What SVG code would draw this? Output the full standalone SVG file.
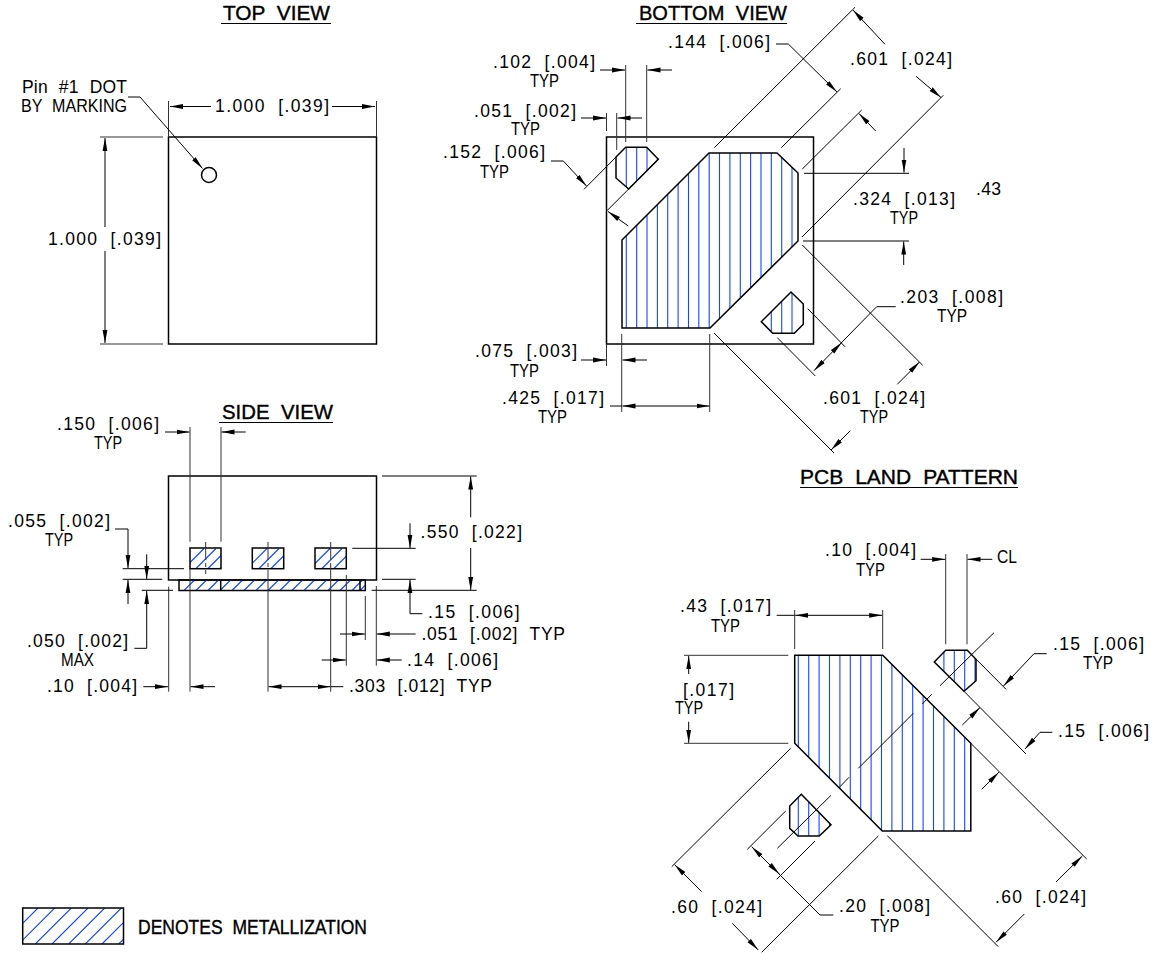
<svg xmlns="http://www.w3.org/2000/svg" width="1152" height="953" viewBox="0 0 1152 953">
<style>
text{font-family:"Liberation Sans",Arial,sans-serif;font-size:17.5px;fill:#000;word-spacing:6px}
.t{font-size:20.5px;stroke:#000;stroke-width:.4}
.o{fill:none;stroke:#000;stroke-width:1.5}
.l{fill:none;stroke:#000;stroke-width:1}
.e{fill:none;stroke:#333;stroke-width:1}
.a{fill:none;stroke:#000;stroke-width:1;marker-end:url(#ah)}
.b{fill:none;stroke:#000;stroke-width:1;marker-start:url(#ah);marker-end:url(#ah)}
.h{fill:none;stroke:#1446ff;stroke-width:1.1}
</style>
<defs>
<marker id="ah" markerUnits="userSpaceOnUse" markerWidth="14" markerHeight="6" refX="13" refY="3" orient="auto-start-reverse"><path d="M0 .6L13 3L0 5.4z" fill="#000"/></marker>
<clipPath id="cb"><polygon points="622,240 709,153 777,153 798,173 798,241 710,328 622,328"/><polygon points="625.7,147.3 646.7,147.3 658.3,159.3 628.7,189 616,178 616,157"/><polygon points="791,292 803.3,304 803.3,324.3 794.3,333.3 772.7,333.3 761.3,321.7"/></clipPath>
<clipPath id="cp"><polygon points="794.7,655.3 882.7,655.3 970.8,743.3 970.8,831 882.3,831 794.7,743.3"/><polygon points="945.7,650.3 967.3,650.3 976,659.3 976,680.7 964,691.3 934.3,662"/><polygon points="801.3,794.3 831,824.7 819.3,836 798,836 789.7,828.3 789.7,806"/></clipPath>
<clipPath id="cs"><rect x="190" y="548" width="31" height="20.7"/><rect x="252.3" y="548" width="31.4" height="20.7"/><rect x="315" y="548" width="31.3" height="20.7"/><rect x="179" y="580" width="186" height="10.5"/></clipPath>
<clipPath id="cl"><rect x="23" y="908" width="100.5" height="36"/></clipPath>
</defs>

<g id="top-view">
<text class="t" x="223" y="20" textLength="107" lengthAdjust="spacingAndGlyphs">TOP VIEW</text>
<path class="l" d="M221 23.5H331" stroke-width="1.5"/>
<rect class="o" x="168.5" y="137" width="208" height="207"/>
<circle class="o" cx="209" cy="175" r="7.5"/>
<text x="22" y="93" textLength="105">Pin #1 DOT</text>
<text x="21" y="112" textLength="106" lengthAdjust="spacingAndGlyphs">BY MARKING</text>
<text x="215" y="112" textLength="114">1.000 [.039]</text>
<text x="48" y="245" textLength="113">1.000 [.039]</text>
</g>

<g id="top-view-connectors">
<path class="e" d="M168.5 101V137M376.5 101V137M100 137H163M100 344H163"/>
<path class="a" d="M211 106.5H170"/><path class="a" d="M332 106.5H375"/>
<path class="a" d="M105 227V138"/><path class="a" d="M105 251V343"/>
<path class="a" d="M128 97H140L202.500 168.500"/>
</g>

<g id="bottom-view">
<text class="t" x="639" y="20" textLength="148" lengthAdjust="spacingAndGlyphs">BOTTOM VIEW</text>
<path class="l" d="M636 23.500H787" stroke-width="1.5"/>
<rect class="o" x="606.500" y="137" width="207" height="207"/>
<path class="h" clip-path="url(#cb)" d="M626.300 140V340M636.700 140V340M647 140V340M657.400 140V340M667.700 140V340M678.100 140V340M688.500 140V340M698.800 140V340M709.200 140V340M719.500 140V340M729.900 140V340M740.300 140V340M750.600 140V340M761 140V340M771.300 140V340M781.700 140V340M792 140V340"/>
<polygon class="o" points="622,240 709,153 777,153 798,173 798,241 710,328 622,328"/>
<polygon class="o" points="625.700,147.300 646.700,147.300 658.300,159.300 628.700,189 616,178 616,157"/>
<polygon class="o" points="791,292 803.300,304 803.300,324.300 794.300,333.300 772.700,333.300 761.300,321.700"/>
<text x="493" y="68" textLength="102">.102 [.004]</text><text x="530" y="87" textLength="29" lengthAdjust="spacingAndGlyphs">TYP</text>
<text x="474" y="116.500" textLength="102">.051 [.002]</text><text x="511" y="135" textLength="29" lengthAdjust="spacingAndGlyphs">TYP</text>
<text x="443" y="158" textLength="102">.152 [.006]</text><text x="480" y="178" textLength="29" lengthAdjust="spacingAndGlyphs">TYP</text>
<text x="668" y="48" textLength="102">.144 [.006]</text>
<text x="850" y="65" textLength="102">.601 [.024]</text>
<text x="853" y="204.500" textLength="102">.324 [.013]</text><text x="890" y="224" textLength="28" lengthAdjust="spacingAndGlyphs">TYP</text>
<text x="976" y="195" textLength="25">.43</text>
<text x="900" y="303" textLength="103">.203 [.008]</text><text x="937" y="322" textLength="30" lengthAdjust="spacingAndGlyphs">TYP</text>
<text x="823" y="404" textLength="102">.601 [.024]</text><text x="860" y="423" textLength="28" lengthAdjust="spacingAndGlyphs">TYP</text>
<text x="475" y="357" textLength="102">.075 [.003]</text><text x="510" y="376.500" textLength="29" lengthAdjust="spacingAndGlyphs">TYP</text>
<text x="502" y="404" textLength="102">.425 [.017]</text><text x="538" y="423" textLength="29" lengthAdjust="spacingAndGlyphs">TYP</text>
</g>

<g id="bottom-view-connectors">
<path class="e" d="M625.700 65V142M646.700 65V142M606.500 113V131M616.700 113V150M621.700 334V412M709.700 334V412M606.500 344V366"/>
<path class="a" d="M600 70H625"/><path class="a" d="M672 70H647.500"/>
<path class="a" d="M581 118H606"/><path class="a" d="M642 118H617.500"/>
<path class="l" d="M626 147L584 189.300M658.300 159.300L607 210.700M714.300 147.700L855 7.300M781.300 147.700L840.700 88.700M802.300 169L861.700 110M802 237L943.300 95.300M804 173.300H909M803 241H909M807.700 308.700L845 346.700M777.300 337.700L815.300 376M802.300 245L922.700 365.300M714 333L834 453"/>
<path class="a" d="M551 161H563.300L586.500 186"/>
<path class="a" d="M628.300 226L608 211.500"/>
<path class="a" d="M885 44.300L853 10"/><path class="a" d="M916 76.300L941 97.500"/>
<path class="a" d="M776 44H788.300L837 92"/>
<path class="a" d="M875.700 131L859 113.500"/>
<path class="a" d="M904 148V172.500"/><path class="a" d="M903.700 265V241.500"/>
<path class="a" d="M895.700 306.700H876.700L814 370.700"/><path class="a" d="M835 349.300L841.700 342.400"/>
<path class="a" d="M897.300 384.300L919.500 362"/><path class="a" d="M850.300 430.700L831 450"/>
<path class="a" d="M581 360H606"/><path class="a" d="M647 360H622.500"/>
<path class="l" d="M610 406H622"/><path class="b" d="M622.500 406H709.500"/>
</g>

<g id="side-view">
<text class="t" x="222" y="419" textLength="111" lengthAdjust="spacingAndGlyphs">SIDE VIEW</text>
<path class="l" d="M219 422.500H333" stroke-width="1.500"/>
<rect class="o" x="168.500" y="476" width="208" height="104"/>
<path class="h" clip-path="url(#cs)" d="M180 572.500L204 548.500M192 572.500L216 548.500M204 572.500L228 548.500M216 572.500L240 548.500M243 572.500L267 548.500M255 572.500L279 548.500M267 572.500L291 548.500M279 572.500L303 548.500M306 572.500L330 548.500M318 572.500L342 548.500M330 572.500L354 548.500M342 572.500L366 548.500M184 590.500L195 579.500M196 590.500L207 579.500M208 590.500L219 579.500M220 590.500L231 579.500M232 590.500L243 579.500M244 590.500L255 579.500M256 590.500L267 579.500M268 590.500L279 579.500M280 590.500L291 579.500M292 590.500L303 579.500M304 590.500L315 579.500M316 590.500L327 579.500M328 590.500L339 579.500M340 590.500L351 579.500M352 590.500L363 579.500M360 590.500L371 579.500"/>
<rect class="o" x="190" y="548" width="31" height="20.700"/>
<rect class="o" x="252.300" y="548" width="31.400" height="20.700"/>
<rect class="o" x="315" y="548" width="31.300" height="20.700"/>
<rect class="o" x="179" y="580" width="186.300" height="10.500"/>
<path class="o" d="M220.700 580V590.500M360 580V590.500"/>
<text x="57" y="430" textLength="102">.150 [.006]</text><text x="94" y="449" textLength="28" lengthAdjust="spacingAndGlyphs">TYP</text>
<text x="8" y="526.500" textLength="102">.055 [.002]</text><text x="45" y="545.500" textLength="28" lengthAdjust="spacingAndGlyphs">TYP</text>
<text x="27" y="647.300" textLength="101">.050 [.002]</text><text x="61" y="665.500" textLength="33" lengthAdjust="spacingAndGlyphs">MAX</text>
<text x="47" y="691.500" textLength="90">.10 [.004]</text>
<text x="349" y="691.500" textLength="143">.303 [.012] TYP</text>
<text x="407" y="665.500" textLength="91">.14 [.006]</text>
<text x="421.500" y="640" textLength="143.500">.051 [.002] TYP</text>
<text x="428" y="617.500" textLength="91.500">.15 [.006]</text>
<text x="420.500" y="538" textLength="101.500">.550 [.022]</text>
</g>

<g id="side-view-connectors">
<path class="e" d="M190 427V541.700M221 427V541.700M190 569V691.700M168.700 586.700V691.700M205.700 542V560M205.700 563V567M205.700 570V574M268 542V560M268 563V567M268 570V691.700M330.700 542V560M330.700 563V691.700M346.300 575V665.700M376.300 586V665.700M365.300 596V640"/>
<path class="l" d="M122.700 568.700H184M122.700 579.300H162.300M141.700 590.300H173M382 579.300H415.700M382 476H476.700M371.700 590.300H476.700M352.300 548.300H415.700"/>
<path class="a" d="M165 432H189.500"/><path class="a" d="M245.700 432H221.500"/>
<path class="a" d="M115 529H128V568"/><path class="a" d="M128 604V580"/>
<path class="a" d="M146.700 554.300V579"/><path class="a" d="M134.300 648.300H146.700V591"/>
<path class="a" d="M143.300 686.700H168"/><path class="a" d="M215 686.700H190.500"/>
<path class="b" d="M268.500 686.700H330.500"/><path class="l" d="M331 686.700H343.300"/>
<path class="a" d="M401.700 660H376.800"/><path class="a" d="M321.700 660H345.800"/>
<path class="a" d="M415.700 634H376.800"/><path class="a" d="M340 634H364.800"/>
<path class="a" d="M422.300 613.700H410V580"/>
<path class="a" d="M410 523.300V548"/>
<path class="a" d="M470.700 517.300V476.500"/><path class="a" d="M470.700 548V590"/>
</g>

<g id="pcb-land-pattern">
<text class="t" x="800" y="484" textLength="218" lengthAdjust="spacingAndGlyphs">PCB LAND PATTERN</text>
<path class="l" d="M800 487.500H1018" stroke-width="1.500"/>
<path class="h" clip-path="url(#cp)" d="M798.300 645V840M808.700 645V840M819.100 645V840M829.500 645V840M839.900 645V840M850.300 645V840M860.700 645V840M871.100 645V840M881.500 645V840M891.900 645V840M902.300 645V840M912.700 645V840M923.100 645V840M933.500 645V840M943.900 645V840M954.300 645V840M964.700 645V840M975 645V840"/>
<polygon class="o" points="794.700,655.300 882.700,655.300 970.800,743.300 970.800,831 882.300,831 794.700,743.300"/>
<polygon class="o" points="945.700,650.300 967.300,650.300 976,659.300 976,680.700 964,691.300 934.300,662"/>
<polygon class="o" points="801.300,794.300 831,824.700 819.300,836 798,836 789.700,828.300 789.700,806"/>
<text x="680" y="612.300" textLength="91">.43 [.017]</text><text x="711" y="631.500" textLength="29" lengthAdjust="spacingAndGlyphs">TYP</text>
<text x="683" y="695.500" textLength="51">[.017]</text><text x="675" y="714.300" textLength="28" lengthAdjust="spacingAndGlyphs">TYP</text>
<text x="825" y="555.500" textLength="91">.10 [.004]</text><text x="856" y="575.500" textLength="29" lengthAdjust="spacingAndGlyphs">TYP</text>
<text x="997" y="562.700" textLength="20" lengthAdjust="spacingAndGlyphs">CL</text>
<text x="1053" y="650" textLength="91">.15 [.006]</text><text x="1083" y="669.300" textLength="30" lengthAdjust="spacingAndGlyphs">TYP</text>
<text x="1058" y="736.700" textLength="91">.15 [.006]</text>
<text x="671" y="912.700" textLength="91">.60 [.024]</text>
<text x="995" y="903.300" textLength="91">.60 [.024]</text>
<text x="839" y="912.300" textLength="91">.20 [.008]</text><text x="870.500" y="931.500" textLength="29" lengthAdjust="spacingAndGlyphs">TYP</text>
</g>

<g id="pcb-land-pattern-connectors">
<path class="e" d="M794.700 610V649M882.700 610V649M945.700 554V644.300M967 554V644.300M684 655.300H788.300M684 743.300H788.300"/>
<path class="l" d="M776.700 615.300H794.700M967.300 650.300L1006 689.300M994 632.700L940 685.700M931.700 694.300L922.300 704M913.300 713.300L858.300 768.300M849 777.300L840 786.700M831 795.300L777.300 848.300M964 691.300L1026 754M970.800 743.300L1086.700 859M790.700 748.300L671.700 866.700M878.300 836L761.700 952.300M887.300 835.700L998.300 946.700M785.700 811L747.300 849.300M815 841L776.700 879.300"/>
<path class="b" d="M795.200 615.300H882.200"/>
<path class="a" d="M688.700 674V656"/><path class="a" d="M688.700 721.700V742.800"/>
<path class="a" d="M920.700 559.300H945.200"/><path class="a" d="M992.300 559.300H967.500"/>
<path class="a" d="M1046.700 653.700H1034L1003.500 686"/>
<path class="a" d="M1052.300 732.300H1040L1025 749"/>
<path class="a" d="M962.300 725L980 707.600"/>
<path class="a" d="M981.700 789.300L998.900 772.200"/>
<path class="a" d="M1056 882L1082.300 856"/>
<path class="a" d="M1024.300 914L996 942.300"/>
<path class="a" d="M701.700 891.700L674.500 864.500"/>
<path class="a" d="M732.300 923.300L758.300 950"/>
<path class="a" d="M833.300 915H820L751.700 846.700"/><path class="a" d="M770 864.700L779.300 874"/>
</g>

<g id="legend">
<path class="h" clip-path="url(#cl)" d="M38 908L2 944M54.700 908L18.700 944M71.300 908L35.300 944M88 908L52 944M104.700 908L68.700 944M121.300 908L85.300 944M138 908L102 944M154.700 908L118.700 944"/>
<rect class="o" x="22.700" y="908" width="100.800" height="36"/>
<text class="t" x="138" y="934" textLength="229" lengthAdjust="spacingAndGlyphs">DENOTES METALLIZATION</text>
</g>
</svg>
